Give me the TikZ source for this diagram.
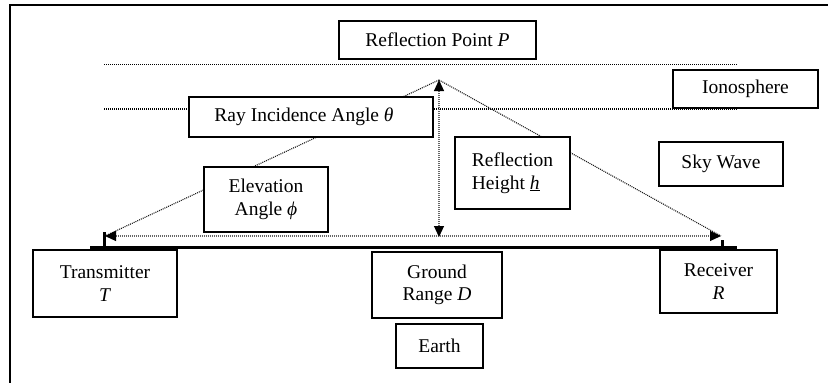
\documentclass[tikz,border=0pt]{standalone}
\usepackage{fontspec}
\setmainfont{Liberation Serif}
\usetikzlibrary{arrows.meta}
\begin{document}
\begin{tikzpicture}[x=1pt,y=-1pt,
  box/.style={draw, line width=1.5pt, fill=white, inner sep=0pt, align=center,
    font=\fontsize{19.5}{22.5}\selectfont},
  iono/.style={line width=1.1pt, dash pattern=on 1pt off 1pt, black},
  ray/.style={line width=1.1pt, dash pattern=on 1pt off 1pt, black!90},
  guide/.style={line width=1.1pt, dash pattern=on 1pt off 1pt, black!60},
  arr/.tip={Triangle[length=11pt,width=10pt,black]},
  tick/.style={line width=2.2pt, black}]
\useasboundingbox (0,0) rectangle (828,383);
% frame
\draw[line width=2pt] (10,383) -- (10,5) -- (828,5);
% key points
\coordinate (P) at (439,80);
\coordinate (G) at (439,237);
\coordinate (T) at (105,236);
\coordinate (R) at (721,236);
\coordinate (I1a) at (104,64.5);
\coordinate (I1b) at (737,64.5);
\coordinate (I2a) at (104,109);
\coordinate (I2b) at (737,109);
\coordinate (Ea) at (90,247.5);
\coordinate (Eb) at (737,247.5);
\coordinate (Tt) at (104.5,232);
\coordinate (Tb) at (104.5,247.5);
\coordinate (Rt) at (722.5,240);
\coordinate (Rb) at (722.5,247.5);
% ionosphere layers
\draw[iono] (I1a) -- (I1b);
\draw[iono] (I2a) -- (I2b);
% rays
\draw[ray] (P) -- (T);
\draw[ray] (P) -- (R);
% ground range and height
\draw[guide, arr-arr] (T) -- (R);
\draw[guide, arr-arr] (G) -- (P);
% earth surface and end ticks
\draw[line width=2.2pt] (Ea) -- (Eb);
\draw[tick] (Tt) -- (Tb);
\draw[tick] (Rt) -- (Rb);
% boxes
\node[box, minimum width=197pt, minimum height=38pt] (refl) at (437.5,40) {Reflection Point \textit{P}};
\node[box, minimum width=244pt, minimum height=40pt] (rayb) at (311,117) {Ray Incidence Angle \textit{θ}\hspace{14pt}};
\node[box, minimum width=145pt, minimum height=38pt] (ionob) at (745.5,89) {Ionosphere};
\node[box, minimum width=115pt, minimum height=72pt, align=left] (hgt) at (512.5,173) {Reflection\\Height \underline{\textit{h}}};
\node[box, minimum width=124pt, minimum height=44pt] (sky) at (721,164) {Sky Wave};
\node[box, minimum width=124pt, minimum height=65pt] (elev) at (266,199.5) {Elevation\\Angle \textit{ϕ}};
\node[box, minimum width=144pt, minimum height=67pt] (trans) at (105,283.5) {Transmitter\\\textit{T}};
\node[box, minimum width=130pt, minimum height=66pt] (grd) at (437,285) {Ground\\Range \textit{D}};
\node[box, minimum width=87pt, minimum height=44pt] (earth) at (439.5,346) {Earth};
\node[box, minimum width=117pt, minimum height=63pt] (recv) at (718.5,281.5) {Receiver\\\textit{R}};
\end{tikzpicture}
\end{document}
